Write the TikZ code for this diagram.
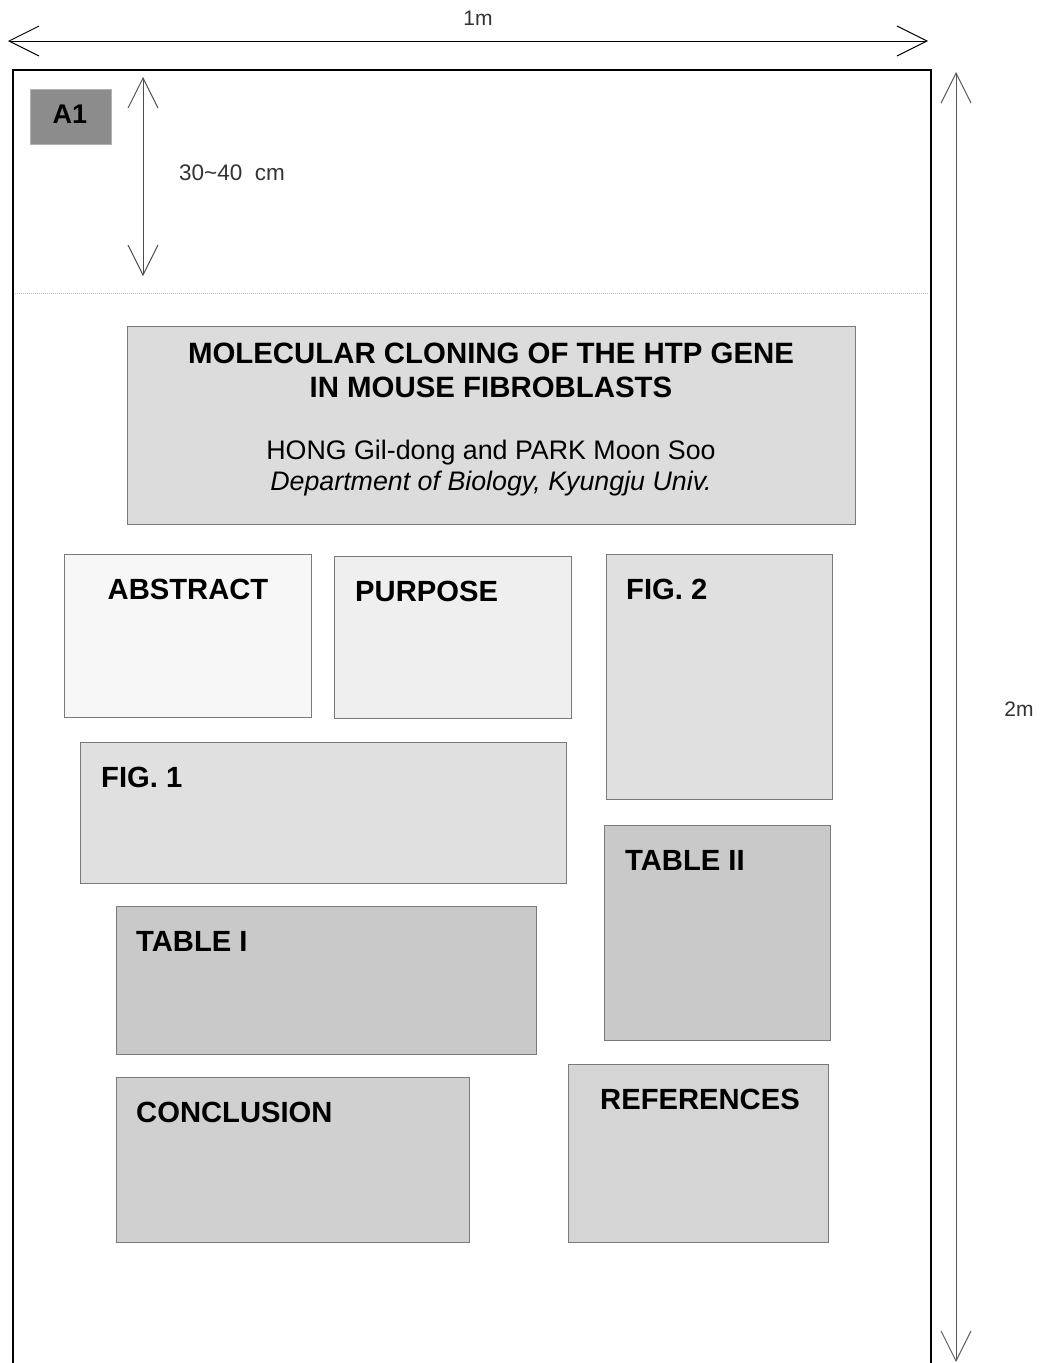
\documentclass[tikz,border=0pt]{standalone}
\usepackage{fontspec}
\setmainfont{Liberation Sans}
\usetikzlibrary{arrows.meta,calc}
\definecolor{edge}{HTML}{7A7A7A}
\definecolor{cA}{HTML}{8C8C8C}
\definecolor{cTitle}{HTML}{DCDCDC}
\definecolor{cAbs}{HTML}{F7F7F7}
\definecolor{cPur}{HTML}{EFEFEF}
\definecolor{cFig}{HTML}{E0E0E0}
\definecolor{cTab}{HTML}{C9C9C9}
\definecolor{cCon}{HTML}{D0D0D0}
\definecolor{cRef}{HTML}{D5D5D5}
\definecolor{dimtext}{HTML}{333333}
\tikzset{
  panel/.style={draw=edge, line width=1pt, anchor=north west, inner sep=0pt},
  lbl/.style={anchor=west, inner sep=0pt, font=\fontsize{29.2}{33}\selectfont\bfseries},
  dimlbl/.style={inner sep=0pt, text=dimtext, font=\fontsize{21}{24}\selectfont},
  dimarrow/.style={line width=1pt, {Straight Barb[length=30pt,width=30pt,line width=1pt]}-{Straight Barb[length=30pt,width=30pt,line width=1pt]}}
}
\begin{document}
\begin{tikzpicture}[x=1pt,y=-1pt]
\useasboundingbox (0,0) rectangle (1042,1363);
% outer frame
\draw[line width=2.5pt] (13,1370) -- (13,70) -- (931,70) -- (931,1370);
% separator
\draw[gray!45, line width=1pt, densely dotted] (15,293) -- (929,293);
% dimension coordinates
\coordinate (wl) at (8,41);
\coordinate (wr) at (928,41);
\coordinate (ht) at (956,72);
\coordinate (hb) at (956,1362);
\coordinate (st) at (143,77);
\coordinate (sb) at (143,276);
\draw[dimarrow, black] (wl) -- (wr);
\draw[dimarrow, black!65] (ht) -- (hb);
\draw[dimarrow, black!70] (st) -- (sb);
\node[dimlbl] (w1m) at (478,18) {1m};
\node[dimlbl] (h2m) at (1019,709) {2m};
\node[dimlbl, anchor=west, font=\fontsize{22.5}{24}\selectfont] (hs) at (179,173) {30\textasciitilde 40\ \ cm};
% A1
\node[panel, draw=gray!60, fill=cA, minimum width=81pt, minimum height=55pt] (a1) at (30,89) {};
\node[lbl, anchor=center, font=\fontsize{27}{30}\selectfont\bfseries] at (70,114) {A1};
% title
\node[panel, fill=cTitle, minimum width=728pt, minimum height=198pt] (title) at (127,326) {};
\node[inner sep=0pt, align=center, font=\fontsize{29.4}{34}\selectfont\bfseries] (tt) at (491,370) {MOLECULAR CLONING OF THE HTP GENE\\IN MOUSE FIBROBLASTS};
\node[inner sep=0pt, align=center, font=\fontsize{26.8}{31}\selectfont] (au) at (491,468) {HONG Gil-dong and PARK Moon Soo\\\itshape Department of Biology, Kyungju Univ.};
% panels
\node[panel, fill=cAbs, minimum width=247pt, minimum height=163pt] (abs) at (64,554) {};
\node[lbl, anchor=center] at (188,589) {ABSTRACT};
\node[panel, fill=cPur, minimum width=237pt, minimum height=162pt] (pur) at (334,556) {};
\node[lbl] at (355,591) {PURPOSE};
\node[panel, fill=cFig, minimum width=226pt, minimum height=245pt] (fig2) at (606,554) {};
\node[lbl] at (626,589) {FIG. 2};
\node[panel, fill=cFig, minimum width=486pt, minimum height=141pt] (fig1) at (80,742) {};
\node[lbl] at (101,777) {FIG. 1};
\node[panel, fill=cTab, minimum width=226pt, minimum height=215pt] (tab2) at (604,825) {};
\node[lbl] at (625,860) {TABLE II};
\node[panel, fill=cTab, minimum width=420pt, minimum height=148pt] (tab1) at (116,906) {};
\node[lbl] at (136,941) {TABLE I};
\node[panel, fill=cCon, minimum width=353pt, minimum height=165pt] (con) at (116,1077) {};
\node[lbl] at (136,1112) {CONCLUSION};
\node[panel, fill=cRef, minimum width=260pt, minimum height=178pt] (ref) at (568,1064) {};
\node[lbl] at (600,1099) {REFERENCES};
\end{tikzpicture}
\end{document}
